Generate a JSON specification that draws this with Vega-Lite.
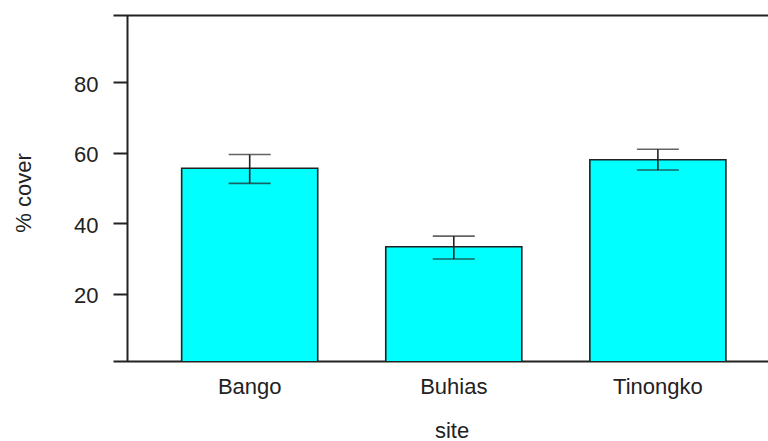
{
  "$schema": "https://vega.github.io/schema/vega-lite/v6.json",
  "autosize": {"type": "none"},
  "padding": {"left": 113, "top": 15, "right": 0, "bottom": 80},
  "width": 655,
  "height": 346,
  "background": "white",
  "config": {
    "view": {"stroke": null},
    "font": "Liberation Sans",
    "axis": {"grid": false, "labelFont": "Liberation Sans", "titleFont": "Liberation Sans", "labelColor": "#222", "titleColor": "#222", "domainColor": "#222", "tickColor": "#222", "titleFontWeight": "normal", "labelFontSize": 22, "titleFontSize": 22, "domainWidth": 2, "tickWidth": 2}
  },
  "data": {"values": [
    {"site": "Bango", "mean": 55.6, "lo": 51.3, "hi": 59.5},
    {"site": "Buhias", "mean": 33.3, "lo": 29.8, "hi": 36.3},
    {"site": "Tinongko", "mean": 58.0, "lo": 55.1, "hi": 61.0}
  ]},
  "resolve": {"axis": {"x": "independent"}},
  "layer": [
    {
      "mark": {"type": "bar", "fill": "#00FFFF", "stroke": "#222", "strokeWidth": 1.6, "clip": true},
      "encoding": {
        "x": {"field": "site", "type": "nominal", "sort": null,
          "scale": {"type": "band", "paddingInner": 0.3333, "paddingOuter": 0.2713, "align": 0.62},
          "axis": {"orient": "bottom", "title": "site", "ticks": false, "tickSize": 0, "labelPadding": 15, "labelAngle": 0, "titleX": 338.5, "titleY": 76, "titleBaseline": "alphabetic", "titleAlign": "center"}},
        "y": {"field": "mean", "type": "quantitative",
          "scale": {"domain": [0.82, 99.15], "zero": false, "nice": false},
          "axis": {"title": "% cover", "values": [20, 40, 60, 80], "offset": -14, "tickSize": 14, "labelPadding": 15, "labelOffset": 2, "titleX": -97, "titleY": 177.5, "titleBaseline": "alphabetic", "titleAngle": -90, "titleAlign": "center"}}
      }
    },
    {
      "mark": {"type": "rule", "color": "#222", "strokeWidth": 1.6},
      "encoding": {
        "x": {"field": "site", "type": "nominal", "sort": null,
          "axis": {"orient": "top", "title": null, "labels": false, "ticks": false, "domain": true}},
        "y": {"field": "lo", "type": "quantitative"},
        "y2": {"field": "hi"}
      }
    },
    {
      "mark": {"type": "tick", "color": "#222", "size": 42, "thickness": 1.6, "orient": "horizontal"},
      "encoding": {
        "x": {"field": "site", "type": "nominal", "sort": null, "axis": null},
        "y": {"field": "lo", "type": "quantitative"}
      }
    },
    {
      "mark": {"type": "tick", "color": "#222", "size": 42, "thickness": 1.6, "orient": "horizontal"},
      "encoding": {
        "x": {"field": "site", "type": "nominal", "sort": null, "axis": null},
        "y": {"field": "hi", "type": "quantitative"}
      }
    }
  ]
}
